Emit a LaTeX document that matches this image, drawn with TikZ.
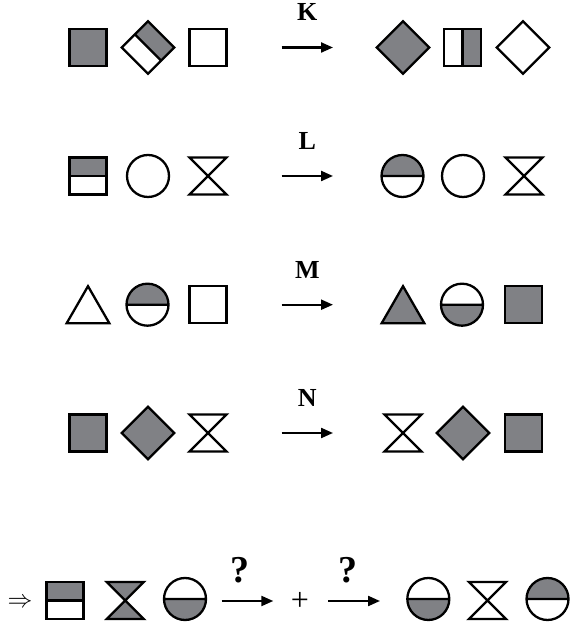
\documentclass[tikz,border=0pt]{standalone}
\usepackage{fontspec}
\setmainfont{Liberation Serif}
\usetikzlibrary{arrows.meta}
\definecolor{tone}{RGB}{128,129,133}

\begin{document}
\begin{tikzpicture}[x=1pt,y=1pt,
  outline/.style={line width=2.3pt,draw=black},
  go/.style={line width=2.2pt,-{Triangle[length=12pt,width=10pt]}},
  lbl/.style={font=\fontsize{26}{26}\selectfont\bfseries,inner sep=0pt,anchor=base},
  qlbl/.style={font=\fontsize{38}{38}\selectfont\bfseries,inner sep=0pt,anchor=base},
  pics/box/.style={code={\draw[outline,fill=#1] (-18.5,-18.5) rectangle (18.5,18.5);}},
  pics/boxtop/.style={code={
    \fill[tone] (-18.5,0) rectangle (18.5,18.5);
    \draw[outline] (-18.5,-18.5) rectangle (18.5,18.5) (-18.5,0) -- (18.5,0);}},
  pics/boxright/.style={code={
    \fill[tone] (0,-18.5) rectangle (18.5,18.5);
    \draw[outline] (-18.5,-18.5) rectangle (18.5,18.5) (0,-18.5) -- (0,18.5);}},
  pics/ring/.style={code={\draw[outline,fill=#1] (0,0) circle (21);}},
  pics/ringtop/.style={code={
    \fill[tone] (21,0) arc (0:180:21) -- cycle;
    \draw[outline] (0,0) circle (21) (-21,0) -- (21,0);}},
  pics/ringbot/.style={code={
    \fill[tone] (21,0) arc (0:-180:21) -- cycle;
    \draw[outline] (0,0) circle (21) (-21,0) -- (21,0);}},
  pics/glass/.style={code={\draw[outline,fill=#1] (-18.5,18.5) -- (18.5,18.5) -- (-18.5,-18.5) -- (18.5,-18.5) -- cycle;}},
  pics/wedge/.style={code={\draw[outline,fill=#1] (-21.3,-18.5) -- (21.3,-18.5) -- (0,18.5) -- cycle;}}]
\useasboundingbox (0,0) rectangle (572,628);

% rows with a rule each
\foreach \y/\t in {580.5/K,452/L,323.3/M,195/N}{
  \coordinate (a\t) at (281.7,\y);
  \coordinate (b\t) at (333,\y);
  \draw[go] (a\t) -- (b\t);
  \node[lbl] (l\t) at (307.3,\y+26.6) {\t};
}

% K
\pic at (88,580.5) {box=tone};
\pic[rotate=-45] at (148,580.5) {boxtop};
\pic at (208,580.5) {box=white};
\pic[rotate=45] at (403,580.5) {box=tone};
\pic at (462.5,580.5) {boxright};
\pic[rotate=45] at (523,580.5) {box=white};

% L
\pic at (88,452) {boxtop};
\pic at (148,452) {ring=white};
\pic at (208,452) {glass=white};
\pic at (402.5,452) {ringtop};
\pic at (463,452) {ring=white};
\pic at (524,452) {glass=white};

% M
\pic at (88,323.3) {wedge=white};
\pic at (147.5,323.3) {ringtop};
\pic at (208,323.3) {box=white};
\pic at (403,323.3) {wedge=tone};
\pic at (462,323.3) {ringbot};
\pic at (523.3,323.3) {box=tone};

% N
\pic at (88,195) {box=tone};
\pic[rotate=45] at (148,195) {box=tone};
\pic at (208,195) {glass=white};
\pic at (403,195) {glass=white};
\pic[rotate=45] at (463,195) {box=tone};
\pic at (523.3,195) {box=tone};

% question
\node[font=\fontsize{24}{24}\selectfont,inner sep=0pt] (imp) at (20,25) {$\Rightarrow$};
\pic at (65,27.5) {boxtop};
\pic at (125.3,27.5) {glass=tone};
\pic at (185,29) {ringbot};
\coordinate (q1a) at (221.7,27);
\coordinate (q1b) at (273.3,27);
\draw[go] (q1a) -- (q1b);
\node[qlbl] (q1) at (240,45) {?};
\node[font=\fontsize{32}{32}\selectfont,inner sep=0pt] (plus) at (300,27) {+};
\coordinate (q2a) at (328.3,27);
\coordinate (q2b) at (380,27);
\draw[go] (q2a) -- (q2b);
\node[qlbl] (q2) at (348,45) {?};
\pic at (428.3,29) {ringbot};
\pic at (487.5,27.5) {glass=white};
\pic at (547.5,29) {ringtop};
\end{tikzpicture}
\end{document}
